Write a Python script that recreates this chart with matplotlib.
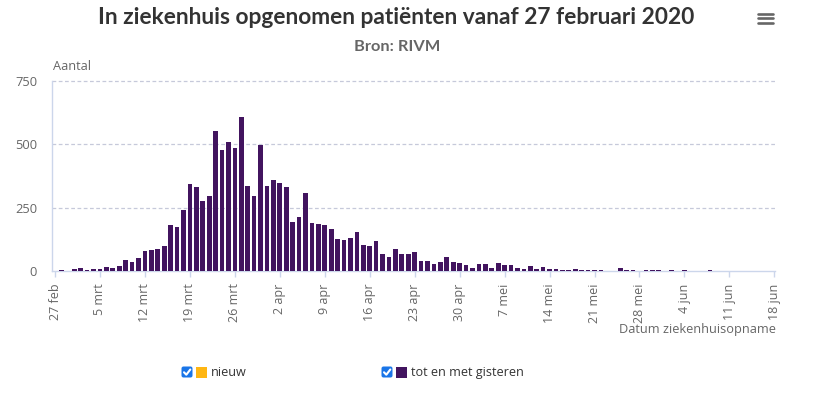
import matplotlib
matplotlib.use('Agg')
import matplotlib.pyplot as plt
import pandas as pd
from matplotlib.patches import FancyBboxPatch, Rectangle
from matplotlib.lines import Line2D

# ---- data ----
start_date = '2020-02-27'
tot_en_met_gisteren = [
    0, 4, 0, 8, 12, 4, 8, 8, 16, 12,
    19, 43, 36, 51, 79, 83, 87, 99, 182, 174,
    241, 344, 332, 277, 297, 553, 475, 509, 486, 608,
    336, 297, 497, 336, 359, 348, 332, 193, 213, 308,
    189, 186, 182, 166, 126, 122, 130, 154, 103, 99,
    118, 67, 55, 87, 67, 67, 75, 39, 39, 28,
    35, 55, 35, 31, 24, 12, 28, 28, 12, 31,
    24, 24, 12, 8, 19, 8, 16, 8, 6, 5,
    5, 9, 5, 5, 5, 4, 0, 0, 12, 5,
    4, 0, 4, 4, 4, 0, 3, 0, 3, 0,
    0, 0, 3,
]
nieuw = [
    0, 0, 0, 0, 0, 0, 0, 0, 0, 0,
    0, 0, 0, 0, 0, 0, 0, 0, 0, 0,
    0, 0, 0, 0, 0, 0, 0, 0, 0, 0,
    0, 0, 0, 0, 0, 0, 0, 0, 0, 0,
    0, 0, 0, 0, 2, 0, 0, 0, 0, 0,
    0, 0, 0, 0, 0, 0, 0, 0, 0, 0,
    0, 0, 0, 0, 0, 0, 0, 0, 0, 0,
    0, 0, 0, 0, 0, 0, 0, 0, 0, 0,
    0, 0, 0, 0, 0, 0, 0, 0, 0, 0,
    0, 0, 0, 0, 0, 0, 0, 0, 0, 0,
    0, 0, 0,
]
tick_labels = ['27 feb', '5 mrt', '12 mrt', '19 mrt', '26 mrt', '2 apr', '9 apr',
               '16 apr', '23 apr', '30 apr', '7 mei', '14 mei', '21 mei', '28 mei',
               '4 jun', '11 jun', '18 jun']
y_ticks = [0, 250, 500, 750]

title = 'In ziekenhuis opgenomen patiënten vanaf 27 februari 2020'
subtitle = 'Bron: RIVM'

PURPLE = '#42145f'
ORANGE = '#ffb612'
GRID = '#c6c9da'
AXIS = '#ccd6eb'
LABEL = '#666666'

W, H = 813, 396
fig = plt.figure(figsize=(W / 100, H / 100), dpi=100)

# plot area in pixels
left, right, top, bottom = 52, 775, 80.7, 271
ax = fig.add_axes([left / W, 1 - bottom / H, (right - left) / W, (bottom - top) / H])

dates = pd.date_range(start_date, periods=len(tot_en_met_gisteren), freq='D')
ax.bar(dates, tot_en_met_gisteren, width=0.73, color=PURPLE, zorder=3, linewidth=0)
ax.bar(dates, nieuw, width=0.73, bottom=tot_en_met_gisteren, color=ORANGE, zorder=3, linewidth=0)

t0 = pd.Timestamp(start_date)
ax.set_xlim(t0 - pd.Timedelta(days=0.47), t0 + pd.Timedelta(days=112.1))
ax.set_ylim(0, 750)

tick_dates = pd.date_range(start_date, periods=len(tick_labels), freq='7D')
ax.set_xticks(tick_dates)
ax.set_xticklabels(tick_labels, rotation=90, fontsize=9, color=LABEL, family='Open Sans')
ax.tick_params(axis='x', length=4, width=1, color=AXIS, pad=5)

ax.set_yticks(y_ticks)
ax.set_yticklabels([str(v) for v in y_ticks], fontsize=9.3, color=LABEL, family='Open Sans')
ax.tick_params(axis='y', length=0, pad=10.8)

for s in ['top', 'right']:
    ax.spines[s].set_visible(False)
ax.spines['left'].set_color(AXIS)
ax.spines['bottom'].set_color(AXIS)
ax.spines['left'].set_linewidth(1)
ax.spines['bottom'].set_linewidth(1)

for v in y_ticks[1:]:
    ax.axhline(v, color=GRID, lw=0.9, ls=(0, (3, 2)), zorder=1, clip_on=False)

# overlay in pixel coordinates
ov = fig.add_axes([0, 0, 1, 1])
ov.set_xlim(0, W)
ov.set_ylim(H, 0)
ov.axis('off')
ov.patch.set_visible(False)

ov.text(396, 18, title, ha='center', va='center', fontsize=16.4, fontweight='bold',
        color='#333333', family='Lato')
ov.text(397, 47, subtitle, ha='center', va='center', fontsize=11.8, fontweight='bold',
        color=LABEL, family='Lato')
ov.text(53, 67, 'Aantal', ha='left', va='center', fontsize=9.2, color=LABEL, family='Open Sans')
ov.text(776, 329, 'Datum ziekenhuisopname', ha='right', va='center', fontsize=9.2,
        color=LABEL, family='Open Sans')

# hamburger menu
for yy in (13.5, 18, 22.5):
    ov.add_line(Line2D([758, 773], [yy, yy], color=LABEL, lw=1.9, solid_capstyle='round'))

# legend
def checkbox(x, y):
    ov.add_patch(FancyBboxPatch((x, y), 11, 11, boxstyle='round,pad=0,rounding_size=2',
                                facecolor='#1a75e8', edgecolor='none'))
    ov.add_line(Line2D([x + 2.5, x + 4.8, x + 8.8], [y + 5.8, y + 8.2, y + 3.0],
                       color='white', lw=1.5, solid_capstyle='round'))

checkbox(181.5, 366.5)
ov.add_patch(Rectangle((195.5, 366.5), 11, 11, facecolor=ORANGE, edgecolor='none'))
ov.text(211, 372.5, 'nieuw', ha='left', va='center', fontsize=9.1, color='#333333', family='Open Sans')
checkbox(381.5, 366.5)
ov.add_patch(Rectangle((395.5, 366.5), 11, 11, facecolor=PURPLE, edgecolor='none'))
ov.text(411, 372.5, 'tot en met gisteren', ha='left', va='center', fontsize=9.1,
        color='#333333', family='Open Sans')

fig.savefig('out.png', dpi=100)
